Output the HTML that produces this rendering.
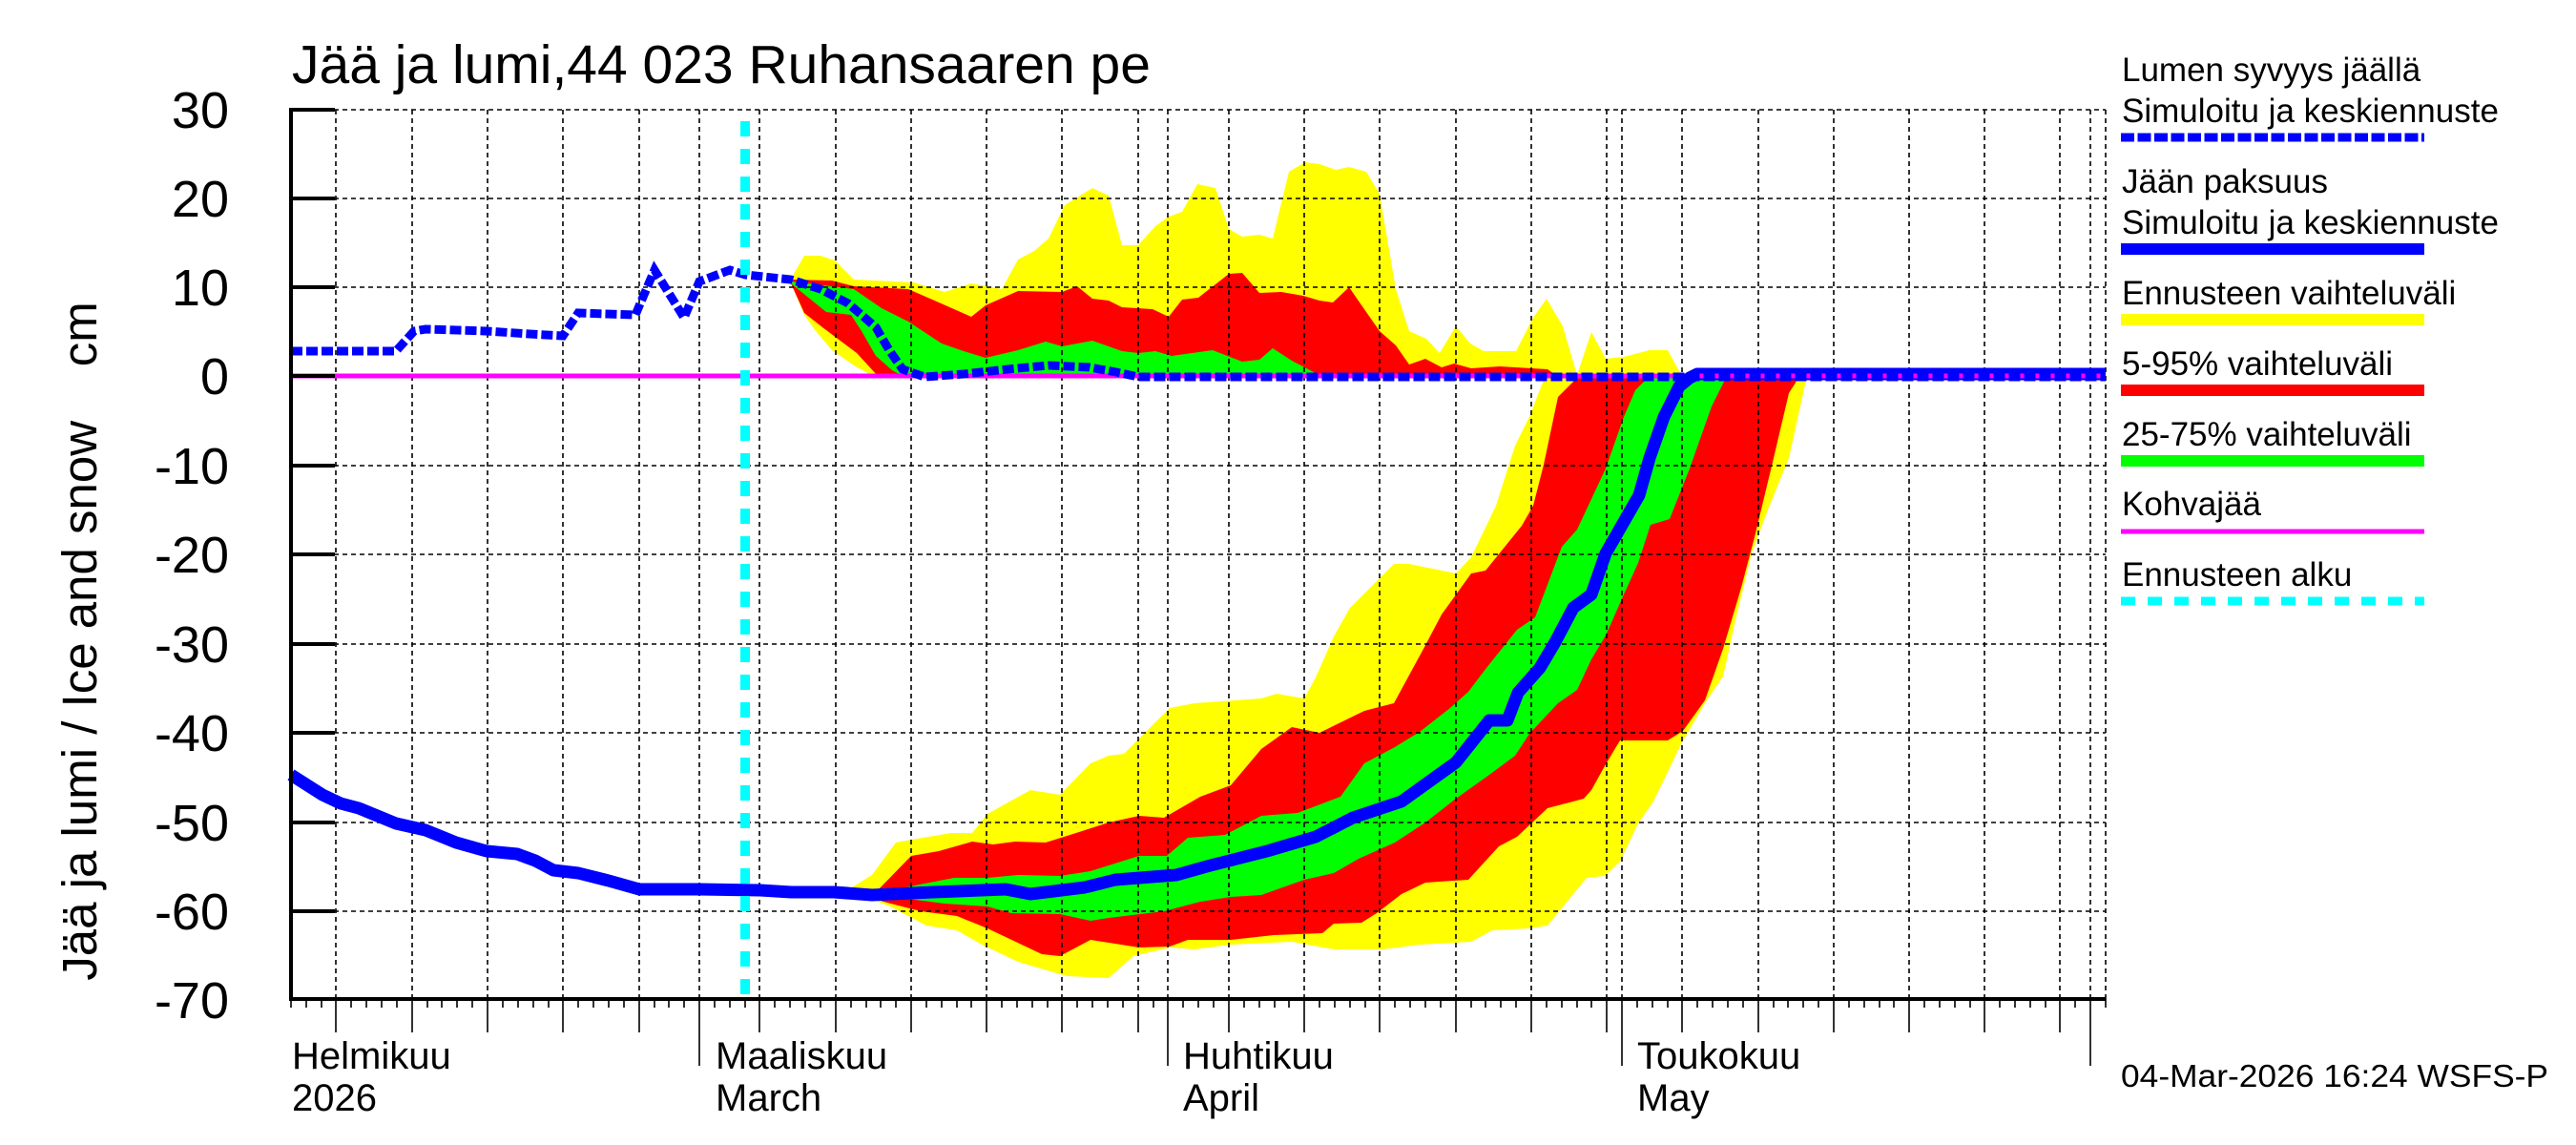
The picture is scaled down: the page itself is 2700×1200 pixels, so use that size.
<!DOCTYPE html>
<html><head><meta charset="utf-8"><style>html,body{margin:0;padding:0;background:#fff}svg{display:block}</style></head>
<body>
<svg width="2700" height="1200" viewBox="0 0 2700 1200" xmlns="http://www.w3.org/2000/svg" font-family="'Liberation Sans', sans-serif">
<rect width="2700" height="1200" fill="#fff"/>
<polygon fill="#ffff00" points="829,292 843,268 860,268 875,273 895,293 958,296 990,306 1018,297 1050,303 1067,272 1084,263 1099,250 1116,215 1145,197 1162,205 1176,257 1193,257 1211,237 1225,227 1239,222 1255,193 1274,197 1288,240 1302,248 1320,246 1334,250 1351,180 1368,170 1383,172 1400,178 1414,175 1432,180 1446,203 1463,303 1477,347 1495,355 1509,370 1526,342 1541,360 1555,368 1589,368 1607,333 1621,313 1638,342 1653,393 1668,348 1683,376 1702,374 1729,367 1748,367 1760,389 1765,394 915,394 895,383 872,367 855,347 843,330 829,297"/>
<polygon fill="#ff0000" points="829,293 872,294 895,300 952,303 975,313 1018,332 1033,320 1067,305 1113,306 1129,300 1145,313 1162,315 1176,322 1208,324 1225,332 1239,314 1256,312 1288,287 1302,286 1320,307 1343,306 1366,310 1383,315 1397,317 1414,301 1432,327 1446,347 1463,362 1477,382 1494,376 1511,385 1524,381 1542,386 1572,384 1622,387 1632,394 920,394 898,370 862,343 843,328 829,297"/>
<polygon fill="#00ff00" points="829,295 855,298 895,303 924,323 952,337 987,360 1010,368 1033,375 1067,367 1096,358 1113,363 1145,357 1176,368 1193,370 1211,368 1228,373 1271,367 1302,379 1320,377 1334,365 1354,378 1377,390 1382,394 946,394 935,388 918,373 903,347 892,330 866,327 829,297"/>
<polygon fill="#ffff00" points="876,935 888,933 914,917 939,883 955,880 997,873 1019,873 1035,853 1080,828 1111,833 1143,800 1162,792 1178,790 1226,742 1252,737 1322,732 1338,727 1367,732 1379,710 1398,667 1415,637 1461,591 1477,591 1526,601 1542,584 1568,530 1588,467 1603,437 1618,398 1620,394 1895,394 1892,403 1875,480 1852,537 1836,580 1819,650 1806,709 1787,737 1762,780 1733,840 1717,863 1698,903 1682,918 1663,920 1622,970 1603,973 1564,975 1542,987 1488,990 1449,995 1398,995 1354,987 1290,990 1252,995 1226,993 1188,1002 1162,1025 1118,1023 1067,1008 1029,990 1003,975 971,970 933,950 901,938"/>
<polygon fill="#ff0000" points="901,937 920,933 955,897 984,892 1019,882 1041,885 1064,882 1096,883 1131,872 1162,862 1194,855 1220,857 1258,835 1290,823 1322,785 1354,762 1383,768 1430,745 1461,737 1492,680 1511,644 1542,601 1557,598 1595,551 1607,530 1618,487 1633,416 1649,400 1652,394 1884,394 1882,401 1875,412 1859,480 1840,559 1825,616 1806,680 1787,734 1764,766 1748,776 1698,776 1683,801 1668,828 1660,837 1622,847 1590,877 1571,887 1539,922 1494,925 1469,937 1443,957 1427,967 1398,968 1386,978 1335,980 1290,985 1245,985 1226,992 1194,993 1156,987 1143,985 1111,1002 1092,1000 1035,973 1003,960 965,955 926,945"/>
<polygon fill="#00ff00" points="914,938 933,933 1000,920 1035,920 1067,917 1111,918 1143,913 1194,897 1223,897 1245,878 1284,875 1322,855 1360,852 1405,835 1430,800 1462,783 1488,767 1520,742 1539,725 1558,700 1590,660 1609,647 1637,573 1653,555 1683,491 1702,437 1714,409 1725,398 1728,394 1810,394 1808,398 1794,426 1771,491 1750,544 1730,550 1717,590 1702,623 1683,666 1668,691 1653,723 1633,737 1603,769 1588,792 1561,812 1526,837 1494,862 1462,883 1424,900 1398,915 1367,922 1322,938 1290,940 1258,945 1220,955 1162,962 1143,965 1111,958 1060,957 1035,950 990,947 952,942"/>
<g stroke="#000" stroke-width="1.6" stroke-dasharray="5,4" fill="none">
<path d="M305,115H2207M305,208H2207M305,301H2207M305,488H2207M305,581H2207M305,675H2207M305,768H2207M305,862H2207M305,955H2207"/>
<path d="M352,115V1048M432,115V1048M511,115V1048M590,115V1048M670,115V1048M733,115V1048M796,115V1048M876,115V1048M955,115V1048M1034,115V1048M1113,115V1048M1193,115V1048M1224,115V1048M1288,115V1048M1367,115V1048M1446,115V1048M1526,115V1048M1605,115V1048M1684,115V1048M1700,115V1048M1763,115V1048M1843,115V1048M1922,115V1048M2001,115V1048M2080,115V1048M2159,115V1048M2191,115V1048M2207,115V1048"/>
</g>
<line x1="305" y1="394" x2="2207" y2="394" stroke="#ff00ff" stroke-width="5"/>
<polyline fill="none" stroke="#0000ff" stroke-width="13" stroke-linejoin="round" points="305,812 338,833 357,842 376,847 415,863 446,870 478,883 510,892 542,895 561,902 580,912 606,915 638,923 670,932 733,932 797,933 829,935 874,935 914,938 978,935 1054,932 1080,937 1137,930 1169,922 1233,917 1265,908 1328,892 1379,877 1418,857 1469,840 1494,822 1526,799 1561,755 1580,755 1591,726 1614,700 1630,673 1649,637 1668,623 1683,580 1718,519 1729,480 1744,437 1760,405 1771,396 1779,392 2207,392"/>
<line x1="1779" y1="394" x2="2207" y2="394" stroke="#ff00ff" stroke-width="5"/>
<polyline fill="none" stroke="#0000ff" stroke-width="9" stroke-dasharray="12,4" points="305,368 415,368 434,347 446,345 510,347 555,350 590,352 606,328 666,330 686,283 717,333 733,295 765,283 781,288 829,293 860,303 889,318 918,343 932,367 946,387 969,395 1010,392 1056,387 1099,383 1142,385 1170,390 1193,395 2207,395"/>
<line x1="781" y1="127" x2="781" y2="1048" stroke="#00ffff" stroke-width="10" stroke-dasharray="16,13"/>
<g stroke="#000" fill="none">
<line x1="305" y1="113" x2="305" y2="1049" stroke-width="4"/>
<line x1="303" y1="1047" x2="2207" y2="1047" stroke-width="4"/>
<path stroke-width="4" d="M305,115H351M305,208H351M305,301H351M305,394H351M305,488H351M305,581H351M305,675H351M305,768H351M305,862H351M305,955H351"/>
<path stroke-width="1.6" d="M352,1047V1082M432,1047V1082M511,1047V1082M590,1047V1082M670,1047V1082M796,1047V1082M876,1047V1082M955,1047V1082M1034,1047V1082M1113,1047V1082M1193,1047V1082M1288,1047V1082M1367,1047V1082M1446,1047V1082M1526,1047V1082M1605,1047V1082M1684,1047V1082M1763,1047V1082M1843,1047V1082M1922,1047V1082M2001,1047V1082M2080,1047V1082M2159,1047V1082"/>
<path stroke-width="1.6" d="M733,1047V1117M1224,1047V1117M1700,1047V1117M2191,1047V1117"/>
</g>
<path stroke="#000" stroke-width="1.6" fill="none" d="M305,1047v9M321,1047v9M337,1047v9M368,1047v9M384,1047v9M400,1047v9M416,1047v9M448,1047v9M463,1047v9M479,1047v9M495,1047v9M527,1047v9M543,1047v9M559,1047v9M575,1047v9M606,1047v9M622,1047v9M638,1047v9M654,1047v9M686,1047v9M701,1047v9M717,1047v9M749,1047v9M765,1047v9M781,1047v9M812,1047v9M828,1047v9M844,1047v9M860,1047v9M892,1047v9M908,1047v9M923,1047v9M939,1047v9M971,1047v9M987,1047v9M1003,1047v9M1018,1047v9M1050,1047v9M1066,1047v9M1082,1047v9M1098,1047v9M1129,1047v9M1145,1047v9M1161,1047v9M1177,1047v9M1209,1047v9M1240,1047v9M1256,1047v9M1272,1047v9M1304,1047v9M1320,1047v9M1336,1047v9M1351,1047v9M1383,1047v9M1399,1047v9M1415,1047v9M1431,1047v9M1462,1047v9M1478,1047v9M1494,1047v9M1510,1047v9M1542,1047v9M1557,1047v9M1573,1047v9M1589,1047v9M1621,1047v9M1637,1047v9M1653,1047v9M1668,1047v9M1716,1047v9M1732,1047v9M1748,1047v9M1779,1047v9M1795,1047v9M1811,1047v9M1827,1047v9M1859,1047v9M1874,1047v9M1890,1047v9M1906,1047v9M1938,1047v9M1954,1047v9M1970,1047v9M1985,1047v9M2017,1047v9M2033,1047v9M2049,1047v9M2065,1047v9M2096,1047v9M2112,1047v9M2128,1047v9M2144,1047v9M2175,1047v9M2207,1047v9"/>
<text x="306" y="87" font-size="57">Jää ja lumi,44 023 Ruhansaaren pe</text>
<g font-size="54" text-anchor="end">
<text x="240" y="134">30</text><text x="240" y="227">20</text><text x="240" y="320">10</text><text x="240" y="413">0</text>
<text x="240" y="507">-10</text><text x="240" y="600">-20</text><text x="240" y="694">-30</text><text x="240" y="787">-40</text>
<text x="240" y="881">-50</text><text x="240" y="974">-60</text><text x="240" y="1067">-70</text>
</g>
<text transform="translate(101,672) rotate(-90)" font-size="51" text-anchor="middle" xml:space="preserve">Jää ja lumi / Ice and snow    cm</text>
<g font-size="40">
<text x="306" y="1120">Helmikuu</text><text x="306" y="1164">2026</text>
<text x="750" y="1120">Maaliskuu</text><text x="750" y="1164">March</text>
<text x="1240" y="1120">Huhtikuu</text><text x="1240" y="1164">April</text>
<text x="1716" y="1120">Toukokuu</text><text x="1716" y="1164">May</text>
</g>
<text x="2223" y="1139" font-size="33" textLength="448" lengthAdjust="spacingAndGlyphs">04-Mar-2026 16:24 WSFS-P</text>
<g font-size="35">
<text x="2224" y="85">Lumen syvyys jäällä</text>
<text x="2224" y="128">Simuloitu ja keskiennuste</text>
<text x="2224" y="202">Jään paksuus</text>
<text x="2224" y="245">Simuloitu ja keskiennuste</text>
<text x="2224" y="319">Ennusteen vaihteluväli</text>
<text x="2224" y="393">5-95% vaihteluväli</text>
<text x="2224" y="467">25-75% vaihteluväli</text>
<text x="2224" y="540">Kohvajää</text>
<text x="2224" y="614">Ennusteen alku</text>
</g>
<line x1="2223" y1="144" x2="2541" y2="144" stroke="#0000ff" stroke-width="9" stroke-dasharray="14,3.5"/>
<line x1="2223" y1="261" x2="2541" y2="261" stroke="#0000ff" stroke-width="12"/>
<line x1="2223" y1="335" x2="2541" y2="335" stroke="#ffff00" stroke-width="12"/>
<line x1="2223" y1="409" x2="2541" y2="409" stroke="#ff0000" stroke-width="12"/>
<line x1="2223" y1="483" x2="2541" y2="483" stroke="#00ff00" stroke-width="12"/>
<line x1="2223" y1="557" x2="2541" y2="557" stroke="#ff00ff" stroke-width="5"/>
<line x1="2223" y1="630" x2="2541" y2="630" stroke="#00ffff" stroke-width="9" stroke-dasharray="15,13"/>
</svg>
</body></html>
